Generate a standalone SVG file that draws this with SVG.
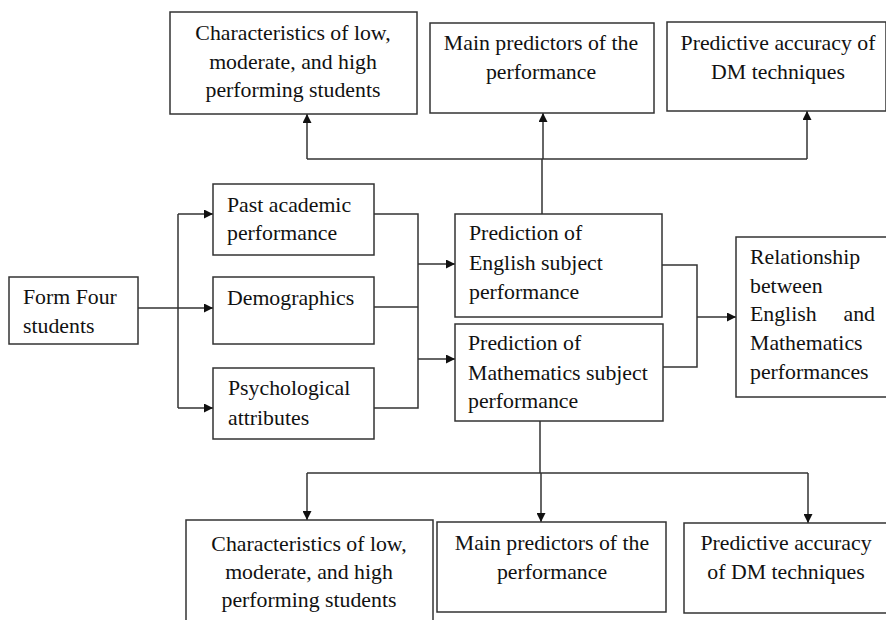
<svg xmlns="http://www.w3.org/2000/svg" width="886" height="620" viewBox="0 0 886 620">
<style>
.box{fill:#fff;stroke:#333;stroke-width:1.5}
.ln{fill:none;stroke:#333;stroke-width:1.5}
text{font-family:"Liberation Serif","Times New Roman",serif;font-size:21.8px;fill:#111}
.c{text-anchor:middle}
</style>
<defs>
<marker id="ah" viewBox="0 0 10 10" refX="10" refY="5" markerWidth="10" markerHeight="9" markerUnits="userSpaceOnUse" orient="auto">
<path d="M0,0 L10,5 L0,10 z" fill="#111"/>
</marker>
</defs>
<rect width="886" height="620" fill="#fff"/>
<g id="connectors">
<path class="ln" d="M542,214 V159"/>
<path class="ln" d="M307,159 H807"/>
<path class="ln" marker-end="url(#ah)" d="M307,159 V114"/>
<path class="ln" marker-end="url(#ah)" d="M543,159 V113"/>
<path class="ln" marker-end="url(#ah)" d="M807,159 V111"/>
<path class="ln" marker-end="url(#ah)" d="M138,308 H213"/>
<path class="ln" d="M178,214 V408"/>
<path class="ln" marker-end="url(#ah)" d="M178,214 H213"/>
<path class="ln" marker-end="url(#ah)" d="M178,408 H213"/>
<path class="ln" d="M374,214 H418 V408 H374"/>
<path class="ln" d="M374,307 H418"/>
<path class="ln" marker-end="url(#ah)" d="M418,264 H455"/>
<path class="ln" marker-end="url(#ah)" d="M418,359 H455"/>
<path class="ln" d="M662,265 H697 V367 H663"/>
<path class="ln" marker-end="url(#ah)" d="M697,317 H736"/>
<path class="ln" d="M540,421 V473"/>
<path class="ln" d="M307,473 H808"/>
<path class="ln" marker-end="url(#ah)" d="M307,473 V520"/>
<path class="ln" marker-end="url(#ah)" d="M541,473 V522"/>
<path class="ln" marker-end="url(#ah)" d="M808,473 V523"/>
</g>
<g id="char-top">
<rect class="box" x="170" y="12" width="247" height="102"/>
<text class="c" x="293" y="40">Characteristics of low,</text>
<text class="c" x="293" y="68.5">moderate, and high</text>
<text class="c" x="293" y="97">performing students</text>
</g>
<g id="pred-top">
<rect class="box" x="430" y="23" width="224" height="90"/>
<text class="c" x="541" y="50">Main predictors of the</text>
<text class="c" x="541" y="79">performance</text>
</g>
<g id="acc-top">
<rect class="box" x="667" y="22" width="219" height="89"/>
<text class="c" x="778" y="50">Predictive accuracy of</text>
<text class="c" x="778" y="79">DM techniques</text>
</g>
<g id="form-four">
<rect class="box" x="9" y="277" width="129" height="67"/>
<text x="23" y="304">Form Four</text>
<text x="23" y="333">students</text>
</g>
<g id="past">
<rect class="box" x="213" y="184" width="161" height="71"/>
<text x="227" y="212">Past academic</text>
<text x="227" y="240">performance</text>
</g>
<g id="demo">
<rect class="box" x="213" y="277" width="161" height="67"/>
<text x="227" y="305">Demographics</text>
</g>
<g id="psych">
<rect class="box" x="213" y="368" width="161" height="71"/>
<text x="228" y="395">Psychological</text>
<text x="228" y="425">attributes</text>
</g>
<g id="english">
<rect class="box" x="455" y="214" width="207" height="103"/>
<text x="469" y="240">Prediction of</text>
<text x="469" y="270">English subject</text>
<text x="469" y="299">performance</text>
</g>
<g id="math">
<rect class="box" x="455" y="324" width="208" height="97"/>
<text x="468" y="350">Prediction of</text>
<text x="468" y="380">Mathematics subject</text>
<text x="468" y="408">performance</text>
</g>
<g id="relationship">
<rect class="box" x="736" y="237" width="152" height="160"/>
<text x="750" y="264">Relationship</text>
<text x="750" y="293">between</text>
<text x="750" y="321">English</text>
<text x="875" y="321" text-anchor="end">and</text>
<text x="750" y="350">Mathematics</text>
<text x="750" y="379">performances</text>
</g>
<g id="char-bottom">
<rect class="box" x="186" y="520" width="247" height="110"/>
<text class="c" x="309" y="551">Characteristics of low,</text>
<text class="c" x="309" y="579">moderate, and high</text>
<text class="c" x="309" y="607">performing students</text>
</g>
<g id="pred-bottom">
<rect class="box" x="437" y="522" width="229" height="90"/>
<text class="c" x="552" y="550">Main predictors of the</text>
<text class="c" x="552" y="579">performance</text>
</g>
<g id="acc-bottom">
<rect class="box" x="684" y="523" width="204" height="90"/>
<text class="c" x="786" y="550">Predictive accuracy</text>
<text class="c" x="786" y="579">of DM techniques</text>
</g>
</svg>
